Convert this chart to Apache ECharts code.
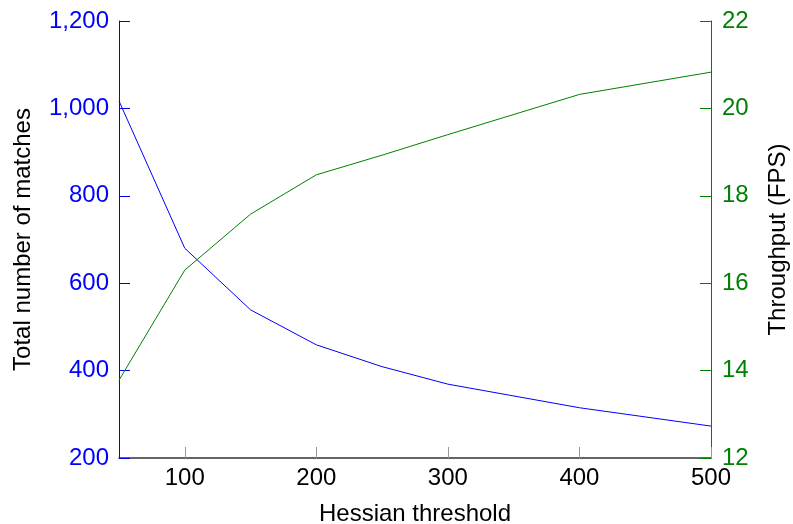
<!DOCTYPE html>
<html>
<head>
<meta charset="utf-8">
<script src="https://cdn.jsdelivr.net/npm/echarts@6/dist/echarts.min.js"></script>
<style>
  html, body { margin: 0; padding: 0; background: #fff; }
  #chart { width: 793px; height: 524px; }
</style>
</head>
<body>
<div id="chart"></div>
<script>
// data
const thresholds = [50, 100, 150, 200, 250, 300, 400, 500];
const matches = [1017, 680, 539, 459, 409, 369, 315, 273];
const fpsThresholds = [50, 100, 150, 200, 250, 300, 400, 500];
const fps = [13.78, 16.3, 17.58, 18.48, 18.93, 19.4, 20.32, 20.83];
const xTicks = [100, 200, 300, 400, 500];

const FONT = "Liberation Sans";
const FS = 24;
const BLUE = "#0000ff";
const GREEN = "#008000";

const chart = echarts.init(document.getElementById("chart"));

chart.setOption({
  animation: false,
  backgroundColor: "#fff",
  grid: { left: 119, right: 82, top: 21, bottom: 66, outerBoundsMode: "none", containLabel: false },
  xAxis: {
    type: "value",
    min: 50,
    max: 500,
    name: "Hessian threshold",
    nameLocation: "middle",
    nameGap: 44,
    nameTextStyle: { color: "#000", fontFamily: FONT, fontSize: FS },
    axisLine: { show: true, lineStyle: { color: "#333", width: 1.5 } },
    axisTick: { show: true, inside: true, length: 11, customValues: xTicks, lineStyle: { color: "#999", width: 1 } },
    axisLabel: { customValues: xTicks, color: "#000", fontFamily: FONT, fontSize: FS, margin: 8 },
    splitLine: { show: false }
  },
  yAxis: [
    {
      type: "value",
      position: "left",
      min: 200,
      max: 1200,
      interval: 200,
      name: "Total number of matches",
      nameLocation: "middle",
      nameRotate: 90,
      nameGap: 84,
      nameTextStyle: { color: "#000", fontFamily: FONT, fontSize: FS },
      axisLine: { show: true, lineStyle: { color: BLUE, width: 1 } },
      axisTick: { show: true, inside: true, length: 11, lineStyle: { color: BLUE } },
      axisLabel: {
        color: BLUE, fontFamily: FONT, fontSize: FS, margin: 10,
        formatter: v => v.toLocaleString("en-US")
      },
      splitLine: { show: false }
    },
    {
      type: "value",
      position: "right",
      min: 12,
      max: 22,
      interval: 2,
      name: "Throughput (FPS)",
      nameLocation: "middle",
      nameRotate: 90,
      nameGap: 55,
      nameTextStyle: { color: "#000", fontFamily: FONT, fontSize: FS },
      axisLine: { show: true, lineStyle: { color: GREEN, width: 1 } },
      axisTick: { show: true, inside: true, length: 11, lineStyle: { color: GREEN } },
      axisLabel: { color: GREEN, fontFamily: FONT, fontSize: FS, margin: 11 },
      splitLine: { show: false }
    }
  ],
  series: [
    {
      type: "line",
      yAxisIndex: 0,
      data: thresholds.map((x, i) => [x, matches[i]]),
      symbol: "none",
      lineStyle: { color: BLUE, width: 1 },
      itemStyle: { color: BLUE }
    },
    {
      type: "line",
      yAxisIndex: 1,
      data: fpsThresholds.map((x, i) => [x, fps[i]]),
      symbol: "none",
      lineStyle: { color: GREEN, width: 1 },
      itemStyle: { color: GREEN }
    }
  ]
});
</script>
</body>
</html>
